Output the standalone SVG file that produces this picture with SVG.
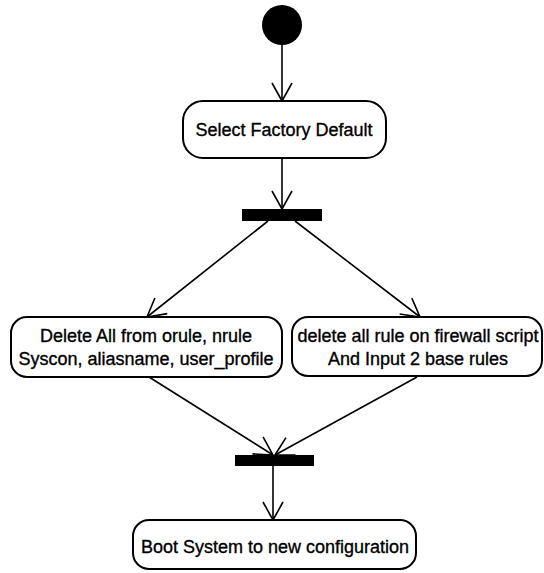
<svg xmlns="http://www.w3.org/2000/svg" width="544" height="573" viewBox="0 0 544 573">
  <style>
    .box { fill: #fff; stroke: #000; stroke-width: 2; }
    .bar { fill: #000; }
    .edge { fill: none; stroke: #000; stroke-width: 1.6; }
    .lbl { font-family: "Liberation Sans", Arial, sans-serif; font-size: 18px; fill: #000; stroke: #000; stroke-width: 0.35; text-anchor: middle; }
  </style>
  <defs>
    <marker id="arr" markerUnits="userSpaceOnUse" markerWidth="24" markerHeight="26" viewBox="-20 -13 22 26" refX="0" refY="0" orient="auto">
      <path d="M-18,-10 L0,0 L-18,10" fill="none" stroke="#000" stroke-width="1.6"/>
    </marker>
  </defs>
  <rect width="544" height="573" fill="#fff"/>

  <g id="edges">
    <line class="edge" x1="282" y1="45" x2="282" y2="101" marker-end="url(#arr)"/>
    <line class="edge" x1="282" y1="158" x2="282" y2="209" marker-end="url(#arr)"/>
    <line class="edge" x1="268" y1="221" x2="147" y2="317" marker-end="url(#arr)"/>
    <line class="edge" x1="295" y1="221" x2="420" y2="317" marker-end="url(#arr)"/>
    <line class="edge" x1="149" y1="377" x2="273" y2="455" marker-end="url(#arr)"/>
    <line class="edge" x1="417" y1="377" x2="275" y2="455" marker-end="url(#arr)"/>
    <line class="edge" x1="273" y1="466" x2="273" y2="520" marker-end="url(#arr)"/>
  </g>

  <g id="start">
    <circle cx="282" cy="25" r="20" fill="#000"/>
  </g>

  <g id="select-factory-default">
    <rect class="box" x="183" y="101" width="203" height="57" rx="20" ry="20"/>
    <text class="lbl" x="284" y="136">Select Factory Default</text>
  </g>

  <g id="fork">
    <rect class="bar" x="242" y="209" width="80" height="12"/>
  </g>

  <g id="delete-all-tables">
    <rect class="box" x="11" y="317" width="271" height="60" rx="16" ry="16"/>
    <text class="lbl" x="146" y="342">Delete All from orule, nrule</text>
    <text class="lbl" x="146" y="365">Syscon, aliasname, user_profile</text>
  </g>

  <g id="delete-firewall-rules">
    <rect class="box" x="292" y="317" width="250" height="59" rx="16" ry="16"/>
    <text class="lbl" x="418" y="342">delete all rule on firewall script</text>
    <text class="lbl" x="418" y="365">And Input 2 base rules</text>
  </g>

  <g id="join">
    <rect class="bar" x="235" y="455" width="79" height="11"/>
  </g>

  <g id="boot-system">
    <rect class="box" x="133" y="520" width="283" height="49" rx="16" ry="16"/>
    <text class="lbl" x="275" y="553">Boot System to new configuration</text>
  </g>
</svg>
